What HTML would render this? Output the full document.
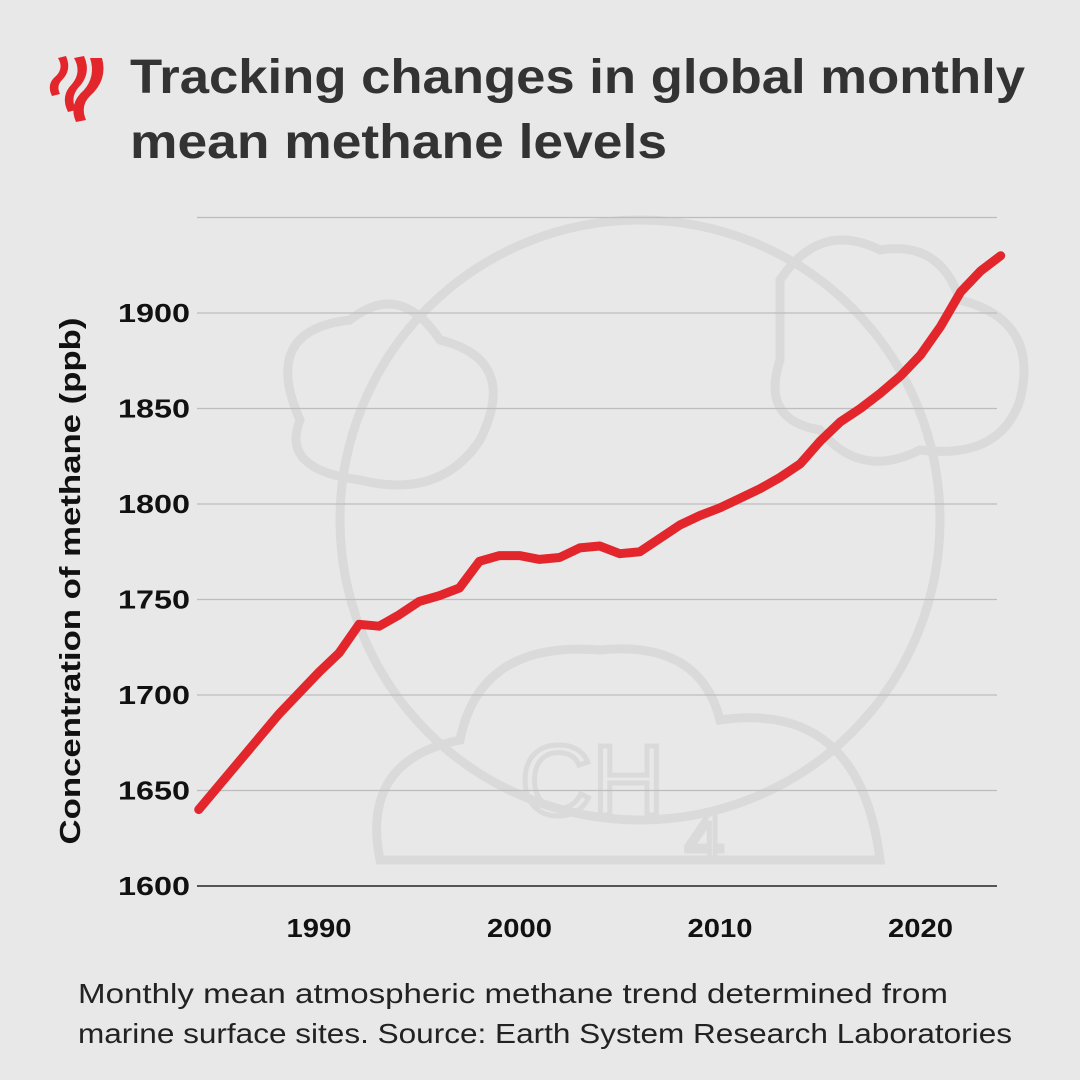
<!DOCTYPE html>
<html><head><meta charset="utf-8"><style>
body{margin:0;background:#e8e8e8;}
svg{display:block;}
text{font-family:"Liberation Sans",sans-serif;}
</style></head><body>
<svg id="chart" width="1080" height="1080" viewBox="0 0 1080 1080">
<rect width="1080" height="1080" fill="#e8e8e8"/>
<g fill="none" stroke="#dadada" stroke-width="9">
<circle cx="640" cy="520" r="300"/>
<path d="M380 860 Q360 760 460 740 Q480 640 600 650 Q700 640 720 720 Q860 700 880 860 Z"/>
<path d="M300 420 Q260 330 350 320 Q400 280 440 340 Q520 360 480 440 Q440 500 360 480 Q280 470 300 420Z"/>
<path d="M780 280 Q820 220 880 250 Q940 240 960 300 Q1040 320 1020 400 Q1000 460 920 450 Q860 480 820 430 Q760 420 780 360 Z"/>
<text x="520" y="815" font-size="100" fill="none" stroke="#dadada" stroke-width="5">CH</text>
<text x="685" y="862" font-size="70" fill="none" stroke="#dadada" stroke-width="5">4</text>
</g>
<g fill="#e3262b">
<path d="M58 58 L66 56 Q72 70 62 80 Q56 86 60 94 L52 96 Q46 84 56 76 Q64 68 58 58Z"/>
<path d="M74 58 L84 56 Q92 74 78 88 Q70 98 76 110 L68 112 Q60 96 72 84 Q82 72 74 58Z"/>
<path d="M90 58 L102 58 Q108 80 90 96 Q80 106 86 120 L76 122 Q68 104 84 90 Q96 76 90 58Z"/>
</g>
<text x="130" y="93" font-size="48" font-weight="bold" fill="#333" textLength="895" lengthAdjust="spacingAndGlyphs">Tracking changes in global monthly</text>
<text x="130" y="158" font-size="48" font-weight="bold" fill="#333" textLength="537" lengthAdjust="spacingAndGlyphs">mean methane levels</text>
<g id="grid"></g>
<g id="yticks"></g>
<g id="xticks"></g>
<text transform="translate(80,581) rotate(-90)" text-anchor="middle" font-size="29" font-weight="bold" fill="#111" textLength="527" lengthAdjust="spacingAndGlyphs">Concentration of methane (ppb)</text>
<path id="line" fill="none" stroke="#e3262b" stroke-width="9" stroke-linejoin="round" stroke-linecap="round"/>
<text x="78" y="1003" font-size="28" fill="#222" textLength="870" lengthAdjust="spacingAndGlyphs">Monthly mean atmospheric methane trend determined from</text>
<text x="78" y="1043" font-size="28" fill="#222" textLength="934" lengthAdjust="spacingAndGlyphs">marine surface sites. Source: Earth System Research Laboratories</text>
</svg>
<script>
const years=[1984,1986,1988,1990,1991,1992,1993,1994,1995,1996,1997,1998,1999,2000,2001,2002,2003,2004,2005,2006,2007,2008,2009,2010,2011,2012,2013,2014,2015,2016,2017,2018,2019,2020,2021,2022,2023,2024];
const values=[1640,1665,1690,1712,1722,1737,1736,1742,1749,1752,1756,1770,1773,1773,1771,1772,1777,1778,1774,1775,1782,1789,1794,1798,1803,1808,1814,1821,1833,1843,1850,1858,1867,1878,1893,1911,1922,1930];
const yTicks=[1600,1650,1700,1750,1800,1850,1900];
const gridVals=[1600,1650,1700,1750,1800,1850,1900,1950];
const xTicks=[1990,2000,2010,2020];
const NS="http://www.w3.org/2000/svg";
const X=v=>319+(v-1990)*20.05;
const Y=v=>886-(v-1600)*1.91;
const grid=document.getElementById('grid'),yt=document.getElementById('yticks'),xt=document.getElementById('xticks');
gridVals.forEach(v=>{const l=document.createElementNS(NS,'line');
l.setAttribute('x1',197);l.setAttribute('x2',997);l.setAttribute('y1',Y(v));l.setAttribute('y2',Y(v));
l.setAttribute('stroke',v===1600?'#555':'#bdbdbd');l.setAttribute('stroke-width',v===1600?2:1.2);


grid.appendChild(l);});
yTicks.forEach(v=>{const t=document.createElementNS(NS,'text');
t.setAttribute('x',190);t.setAttribute('y',Y(v)+9);t.setAttribute('text-anchor','end');
t.setAttribute('font-size',26);t.setAttribute('font-weight','bold');t.setAttribute('fill','#111');
t.setAttribute('textLength',72);t.setAttribute('lengthAdjust','spacingAndGlyphs');t.textContent=v;


yt.appendChild(t);});
xTicks.forEach(v=>{const t=document.createElementNS(NS,'text');
t.setAttribute('x',X(v));t.setAttribute('y',937);t.setAttribute('text-anchor','middle');
t.setAttribute('font-size',26);t.setAttribute('font-weight','bold');t.setAttribute('fill','#111');
t.setAttribute('textLength',65);t.setAttribute('lengthAdjust','spacingAndGlyphs');t.textContent=v;


xt.appendChild(t);});
document.getElementById('line').setAttribute('d',years.map((y,i)=>(i?'L':'M')+X(y).toFixed(1)+' '+Y(values[i]).toFixed(1)).join(' '));
</script>
</body></html>
